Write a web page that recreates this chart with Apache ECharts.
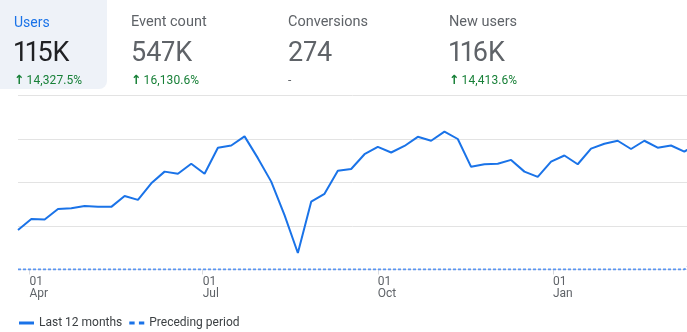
<!DOCTYPE html>
<html>
<head>
<meta charset="utf-8">
<script src="https://cdn.jsdelivr.net/npm/echarts@6/dist/echarts.min.js"></script>
<style>
  html, body { margin: 0; padding: 0; background: #fff; }
  #wrap { position: relative; width: 687px; height: 332px; overflow: hidden; font-family: Roboto, "Noto Sans", sans-serif; }
  #chart { position: absolute; left: 0; top: 0; width: 687px; height: 332px; }
  .card { position: absolute; top: 0; height: 89px; }
  .sel { left: 0; width: 107px; background: #eef2f8; border-bottom-right-radius: 8px; }
  .lab { position: absolute; font-size: 14.5px; line-height: 14.5px; color: #5f6368; white-space: nowrap; top: 15px; }
  .val { position: absolute; font-size: 27px; line-height: 27px; color: #5f6368; white-space: nowrap; top: 39px; font-feature-settings: "pnum"; }
  .chg { position: absolute; font-size: 12px; line-height: 12px; color: #188038; white-space: nowrap; top: 74px; letter-spacing: 0.1px; }
  .chg b { font-family: "DejaVu Sans", sans-serif; font-weight: bold; font-size: 12.5px; margin-right: 2px; }
</style>
</head>
<body>
<div id="wrap">
  <div class="card sel"></div>
  <div id="chart"></div>
  <div id="kpis"></div>
</div>
<script>
// ---- data ----
const kpiNames   = ['Users', 'Event count', 'Conversions', 'New users'];
const kpiValues  = ['115K', '547K', '274', '116K'];
const kpiChanges = ['14,327.5%', '16,130.6%', '-', '14,413.6%'];

const weeks = [
  '2023-03-26','2023-04-02','2023-04-09','2023-04-16','2023-04-23','2023-04-30',
  '2023-05-07','2023-05-14','2023-05-21','2023-05-28','2023-06-04','2023-06-11',
  '2023-06-18','2023-06-25','2023-07-02','2023-07-09','2023-07-16','2023-07-23',
  '2023-07-30','2023-08-06','2023-08-13','2023-08-20','2023-08-27','2023-09-03',
  '2023-09-10','2023-09-17','2023-09-24','2023-10-01','2023-10-08','2023-10-15',
  '2023-10-22','2023-10-29','2023-11-05','2023-11-12','2023-11-19','2023-11-26',
  '2023-12-03','2023-12-10','2023-12-17','2023-12-24','2023-12-31','2024-01-07',
  '2024-01-14','2024-01-21','2024-01-28','2024-02-04','2024-02-11','2024-02-18',
  '2024-02-25','2024-03-03','2024-03-10','2024-03-17'
];
// weekly users, thousands
const last12Months = [
  0.91, 1.16, 1.15, 1.39, 1.41, 1.46, 1.44, 1.44, 1.69, 1.60,
  1.98, 2.25, 2.20, 2.43, 2.20, 2.80, 2.85, 3.06, 2.56, 2.02,
  1.25, 0.38, 1.56, 1.74, 2.27, 2.31, 2.65, 2.82, 2.69, 2.84,
  3.05, 2.96, 3.17, 3.00, 2.36, 2.42, 2.43, 2.52, 2.25, 2.13,
  2.48, 2.62, 2.42, 2.78, 2.89, 2.96, 2.77, 2.96, 2.80, 2.85,
  2.71, 2.90
];
const precedingPeriod = [
  0, 0, 0, 0, 0, 0, 0, 0, 0, 0,
  0, 0, 0, 0, 0, 0, 0, 0, 0, 0,
  0, 0, 0, 0, 0, 0, 0, 0, 0, 0,
  0, 0, 0, 0, 0, 0, 0, 0, 0, 0,
  0, 0, 0, 0, 0, 0, 0, 0, 0, 0,
  0, 0.25
];
const tickDates = ['2023-04-01', '2023-07-01', '2023-10-01', '2024-01-01'];
const monthNames = ['Jan','Feb','Mar','Apr','May','Jun','Jul','Aug','Sep','Oct','Nov','Dec'];
const seriesNames = ['Last 12 months', 'Preceding period'];

// ---- KPI header ----
const kpiX = [14, 131, 288, 449];
const kpis = document.getElementById('kpis');
kpiNames.forEach((n, i) => {
  const x = kpiX[i];
  const lab = document.createElement('div');
  lab.className = 'lab'; lab.style.left = x + 'px'; lab.textContent = n;
  if (i === 0) { lab.style.color = '#1a73e8'; lab.style.fontSize = '14px'; }
  kpis.appendChild(lab);
  const val = document.createElement('div');
  val.className = 'val'; val.style.left = x + 'px'; val.textContent = kpiValues[i];
  if (i === 0) val.style.color = '#202124';
  kpis.appendChild(val);
  const chg = document.createElement('div');
  chg.className = 'chg'; chg.style.left = x + 'px';
  if (kpiChanges[i] === '-') { chg.textContent = '-'; chg.style.color = '#5f6368'; }
  else { chg.innerHTML = '<b>\u2191</b>' + kpiChanges[i]; }
  kpis.appendChild(chg);
});

// ---- chart ----
const P = s => +echarts.time.parse(s);
const DAY = 86400000;
const chart = echarts.init(document.getElementById('chart'), null, { renderer: 'canvas' });
const tickVals = tickDates.map(P);
const pad2 = n => (n < 10 ? '0' : '') + n;

chart.setOption({
  animation: false,
  grid: { left: 18, right: 0, top: 95.5, bottom: 62.5, containLabel: false },
  legend: {
    left: 14, top: 312,
    itemWidth: 15, itemHeight: 10, itemGap: 7,
    textStyle: { color: '#3c4043', fontSize: 12, fontFamily: 'Roboto' },
    data: [
      { name: seriesNames[0], icon: 'path://M0,4L15,4L15,7L0,7Z', itemStyle: { color: '#1a73e8' } },
      { name: seriesNames[1], icon: 'path://M0,4L5,4L5,7L0,7ZM9,4L14,4L14,7L9,7Z', itemStyle: { color: '#1a73e8' } }
    ]
  },
  xAxis: {
    type: 'value',
    min: P(weeks[0]),
    max: P(weeks[50]) + 1.4 * DAY,
    axisLine: { show: false },
    splitLine: { show: false },
    axisTick: { show: true, customValues: tickVals, length: 5, lineStyle: { color: '#dadce0' } },
    axisLabel: {
      customValues: tickVals,
      align: 'left',
      margin: 6,
      color: '#5f6368',
      fontSize: 12,
      lineHeight: 12,
      fontFamily: 'Roboto',
      showMinLabel: true, showMaxLabel: true,
      formatter: v => { const d = new Date(v); return pad2(d.getDate()) + '\n' + monthNames[d.getMonth()]; }
    }
  },
  yAxis: {
    type: 'value', min: 0, max: 4, interval: 1,
    axisLabel: { show: false }, axisLine: { show: false }, axisTick: { show: false },
    splitLine: { lineStyle: { color: '#e3e3e3', width: 1 } }
  },
  series: [
    {
      name: seriesNames[1], type: 'line', symbol: 'none', clip: true,
      data: weeks.map((w, i) => [P(w), precedingPeriod[i]]),
      lineStyle: { color: '#5b95f0', width: 2, type: [3, 2] },
      itemStyle: { color: '#1a73e8' }, z: 3
    },
    {
      name: seriesNames[0], type: 'line', symbol: 'none', clip: true,
      data: weeks.map((w, i) => [P(w), last12Months[i]]),
      lineStyle: { color: '#1a73e8', width: 2 },
      itemStyle: { color: '#1a73e8' }, z: 4
    }
  ]
});
</script>
</body>
</html>
